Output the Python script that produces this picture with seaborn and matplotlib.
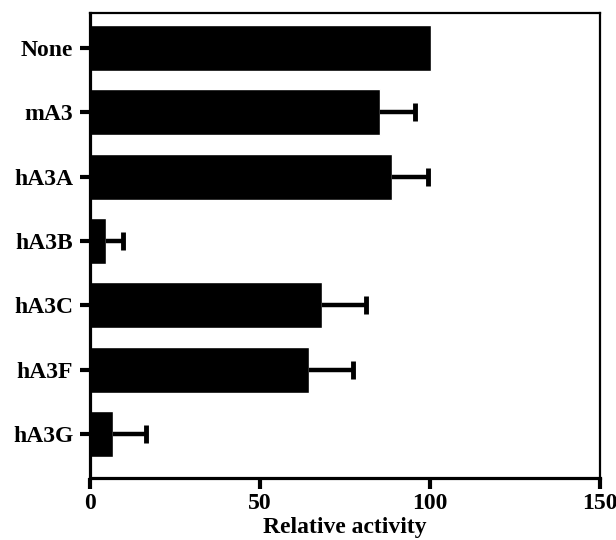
import numpy as np
import pandas as pd
import matplotlib
matplotlib.use("Agg")
import matplotlib.pyplot as plt
import seaborn as sns

labels = ["None", "mA3", "hA3A", "hA3B", "hA3C", "hA3F", "hA3G"]
activity = [100.3, 85.3, 88.8, 4.7, 68.2, 64.4, 6.8]
err_upper = [0, 10.3, 10.7, 5.0, 13.0, 13.0, 9.7]

df = pd.DataFrame({"label": labels, "activity": activity, "err": err_upper})

sns.set_style("ticks", {"axes.edgecolor": "black", "text.color": "black",
                        "xtick.color": "black", "ytick.color": "black",
                        "axes.labelcolor": "black"})
plt.rcParams["font.family"] = ["Liberation Serif", "DejaVu Serif"]
plt.rcParams["font.weight"] = "bold"

fig, ax = plt.subplots(figsize=(6.16, 5.4), dpi=100)
sns.barplot(data=df, x="activity", y="label", orient="h", color="black",
            saturation=1, width=0.715, ax=ax)

# one-sided error bars (upper only)
eb = df[df["err"] > 0]
ypos = eb.index.to_numpy()
upper = eb["activity"] + eb["err"]
ax.hlines(ypos, eb["activity"], upper, color="black", lw=3.2)
ax.plot(upper, ypos, ls="none", marker="|", ms=12.5, mew=3.5, color="black")

ax.set_xlim(0, 150)
ax.set_ylim(6.68, -0.54)
ax.set_xticks([0, 50, 100, 150])
ax.set_xlabel("Relative activity", fontsize=17, fontweight="bold", labelpad=2)
ax.set_ylabel("")
for s in ["left", "bottom"]:
    ax.spines[s].set_linewidth(2.3)
for s in ["top", "right"]:
    ax.spines[s].set_visible(True)
    ax.spines[s].set_linewidth(1.6)
ax.tick_params(axis="x", length=8, width=3, labelsize=17, pad=3)
ax.tick_params(axis="y", length=7, width=3, labelsize=17, pad=5)
for t in ax.get_xticklabels() + ax.get_yticklabels():
    t.set_fontweight("bold")

fig.subplots_adjust(left=0.146, right=0.974, top=0.976, bottom=0.115)
fig.savefig("out.png", dpi=100)
